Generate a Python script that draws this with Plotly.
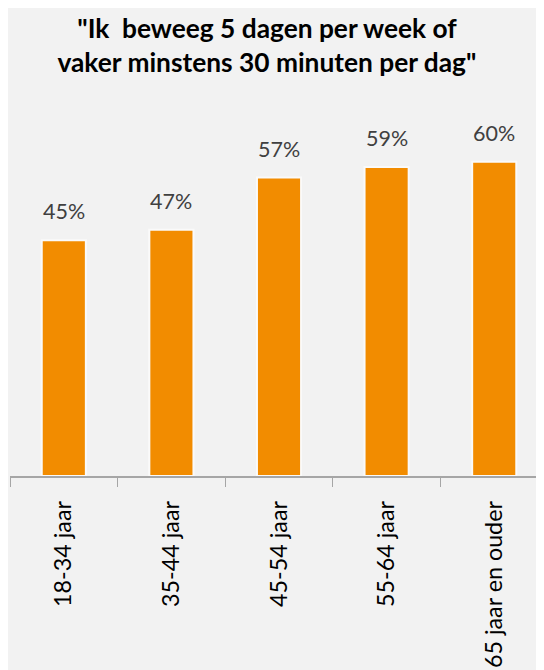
import plotly.graph_objects as go

categories = ["18-34 jaar", "35-44 jaar", "45-54 jaar", "55-64 jaar", "65 jaar en ouder"]
values = [45, 47, 57, 59, 60]
labels = ["45%", "47%", "57%", "59%", "60%"]
title_lines = ["\"Ik \u00a0beweeg 5 dagen per week of", "vaker minstens 30 minuten per dag\""]

FONT = "Lato, Open Sans, sans-serif"

fig = go.Figure(go.Bar(
    x=categories,
    y=values,
    marker=dict(color="#F28C00", line=dict(color="#FAFAFA", width=2)),
))

for c, v, t in zip(categories, values, labels):
    fig.add_annotation(
        x=c, y=v, text=t, showarrow=False, yanchor="bottom", yshift=14,
        font=dict(family=FONT, size=21.5, color="#404040"),
    )

fig.update_layout(
    width=544, height=670,
    paper_bgcolor="#F2F2F2", plot_bgcolor="#F2F2F2",
    margin=dict(l=2, r=0, t=92, b=202, autoexpand=False),
    bargap=0.59,
    showlegend=False,
    title=dict(
        text="<b>" + "<br>".join(title_lines) + "</b>",
        x=0.476, xanchor="center", xref="container",
        y=1 - 30 / 670, yanchor="middle", yref="container",
        font=dict(family=FONT, size=26.3, color="#000000"),
    ),
)
fig.update_xaxes(
    range=[-0.5, 4.537],
    showline=True, linecolor="#A6A6A6", linewidth=1.5,
    ticks="outside", tickson="boundaries", ticklen=9, tickcolor="#A6A6A6",
    tickangle=-90, automargin=False, ticklabelstandoff=14,
    tickfont=dict(family=FONT, size=23.3, color="#000000"),
    showgrid=False,
)
fig.update_yaxes(range=[0, 71.8], visible=False, showgrid=False)

fig.write_html("out.html")
